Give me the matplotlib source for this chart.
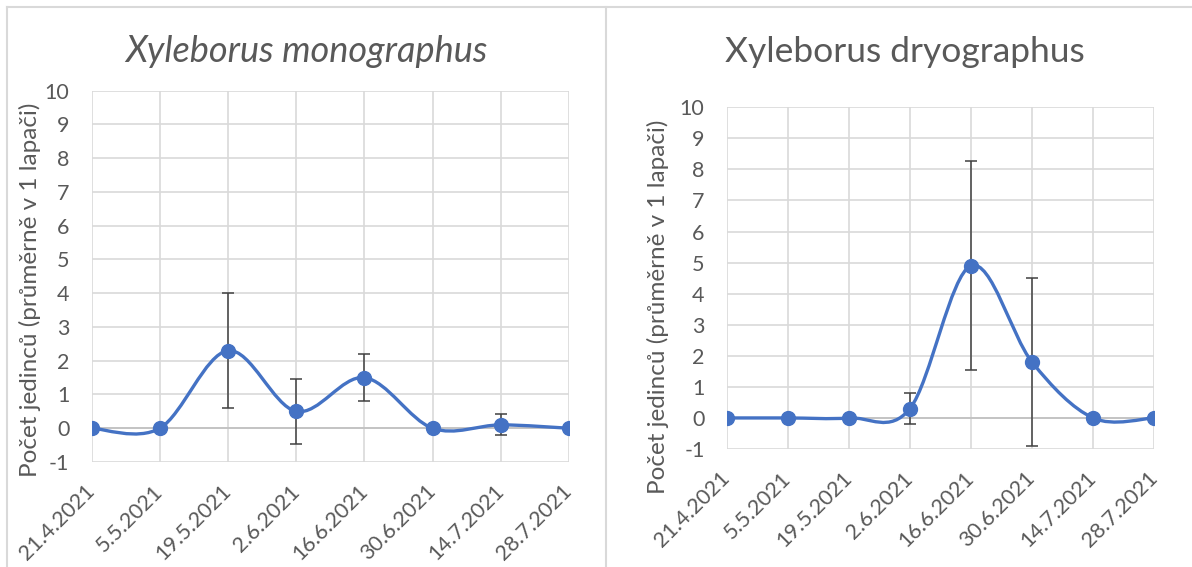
import matplotlib
matplotlib.use('Agg')
import matplotlib.pyplot as plt
import matplotlib.transforms as mtransforms
from matplotlib.path import Path
from matplotlib.patches import PathPatch
from matplotlib.lines import Line2D

plt.rcParams['font.family'] = ['Lato', 'DejaVu Sans']
plt.rcParams['axes.unicode_minus'] = False

dates = ['21.4.2021', '5.5.2021', '19.5.2021', '2.6.2021',
         '16.6.2021', '30.6.2021', '14.7.2021', '28.7.2021']

mono_mean = [0, 0, 2.3, 0.5, 1.5, 0, 0.1, 0]
mono_err = [0, 0, 1.7, 0.97, 0.7, 0, 0.31, 0]

dryo_mean = [0, 0, 0, 0.3, 4.9, 1.8, 0, 0]
dryo_err = [0, 0, 0, 0.5, 3.37, 2.7, 0, 0]

ylabel = 'Počet jedinců (průměrně v 1 lapači)'

blue = '#4472C4'
text_c = '#595959'
grid_c = '#d9d9d9'
W, H = 1192, 567


def smooth_path(xs, ys):
    # Bezier curve through the points, similar to Excel's smoothed line
    n = len(xs)
    verts = [(xs[0], ys[0])]
    codes = [Path.MOVETO]
    for i in range(n - 1):
        i0 = max(i - 1, 0)
        i3 = min(i + 2, n - 1)
        c1 = (xs[i] + (xs[i + 1] - xs[i0]) / 6, ys[i] + (ys[i + 1] - ys[i0]) / 6)
        c2 = (xs[i + 1] - (xs[i3] - xs[i]) / 6, ys[i + 1] - (ys[i3] - ys[i]) / 6)
        verts += [c1, c2, (xs[i + 1], ys[i + 1])]
        codes += [Path.CURVE4] * 3
    return Path(verts, codes)


def draw(ax, mean, err):
    x = list(range(len(dates)))
    ax.set_xlim(0, len(dates) - 1)
    ax.set_ylim(-1, 10)
    ax.set_yticks(range(-1, 11))
    ax.set_xticks(x)
    ax.set_xticklabels(dates, rotation=45, ha='right', va='center',
                       rotation_mode='anchor', fontsize=15.5)
    shift = mtransforms.ScaledTranslation(0.06, 0, fig.dpi_scale_trans)
    for lab in ax.get_xticklabels():
        lab.set_transform(lab.get_transform() + shift)
    ax.grid(True, color=grid_c, lw=1.2)
    ax.set_axisbelow(True)
    for s in ax.spines.values():
        s.set_visible(False)
    ax.tick_params(length=0, colors=text_c)
    ax.tick_params(axis='y', labelsize=15.5, pad=16)
    ax.tick_params(axis='x', pad=19)
    ax.axhline(0, color='#bfbfbf', lw=1.2, zorder=1)
    ax.add_patch(PathPatch(smooth_path(x, mean), fill=False, ec=blue, lw=2.4,
                           zorder=3, capstyle='round', joinstyle='round'))
    ex = [i for i in x if err[i] > 0]
    ax.errorbar(ex, [mean[i] for i in ex], yerr=[err[i] for i in ex], fmt='none',
                ecolor='#404040', elinewidth=1.1, capsize=4.5, capthick=1.1, zorder=4)
    ax.plot(x, mean, 'o', color=blue, ms=10, zorder=5)
    return ax


fig = plt.figure(figsize=(11.92, 5.67), dpi=100)

ax1 = fig.add_axes([0.0769, 0.1852, 0.4004, 0.6548])
draw(ax1, mono_mean, mono_err)
ax2 = fig.add_axes([0.6097, 0.2081, 0.3585, 0.6027])
draw(ax2, dryo_mean, dryo_err)

fig.text(306 / W, 1 - 52 / H, 'Xyleborus monographus', fontsize=26,
         style='italic', color=text_c, ha='center', va='center')
fig.text(905 / W, 1 - 52 / H, 'Xyleborus dryographus', fontsize=25.5,
         color=text_c, ha='center', va='center')

fig.text(30 / W, 1 - 290 / H, ylabel, fontsize=17.5, color=text_c,
         rotation=90, ha='center', va='center')
fig.text(658 / W, 1 - 307 / H, ylabel, fontsize=17.5, color=text_c,
         rotation=90, ha='center', va='center')

# chart frames
for xs_, ys_ in [([7, 7], [0, H - 7]), ([7, W], [H - 7, H - 7]), ([606, 606], [0, H - 7])]:
    fig.add_artist(Line2D([v / W for v in xs_], [v / H for v in ys_],
                          color=grid_c, lw=1.5, transform=fig.transFigure))

fig.savefig('out.png', dpi=100)
